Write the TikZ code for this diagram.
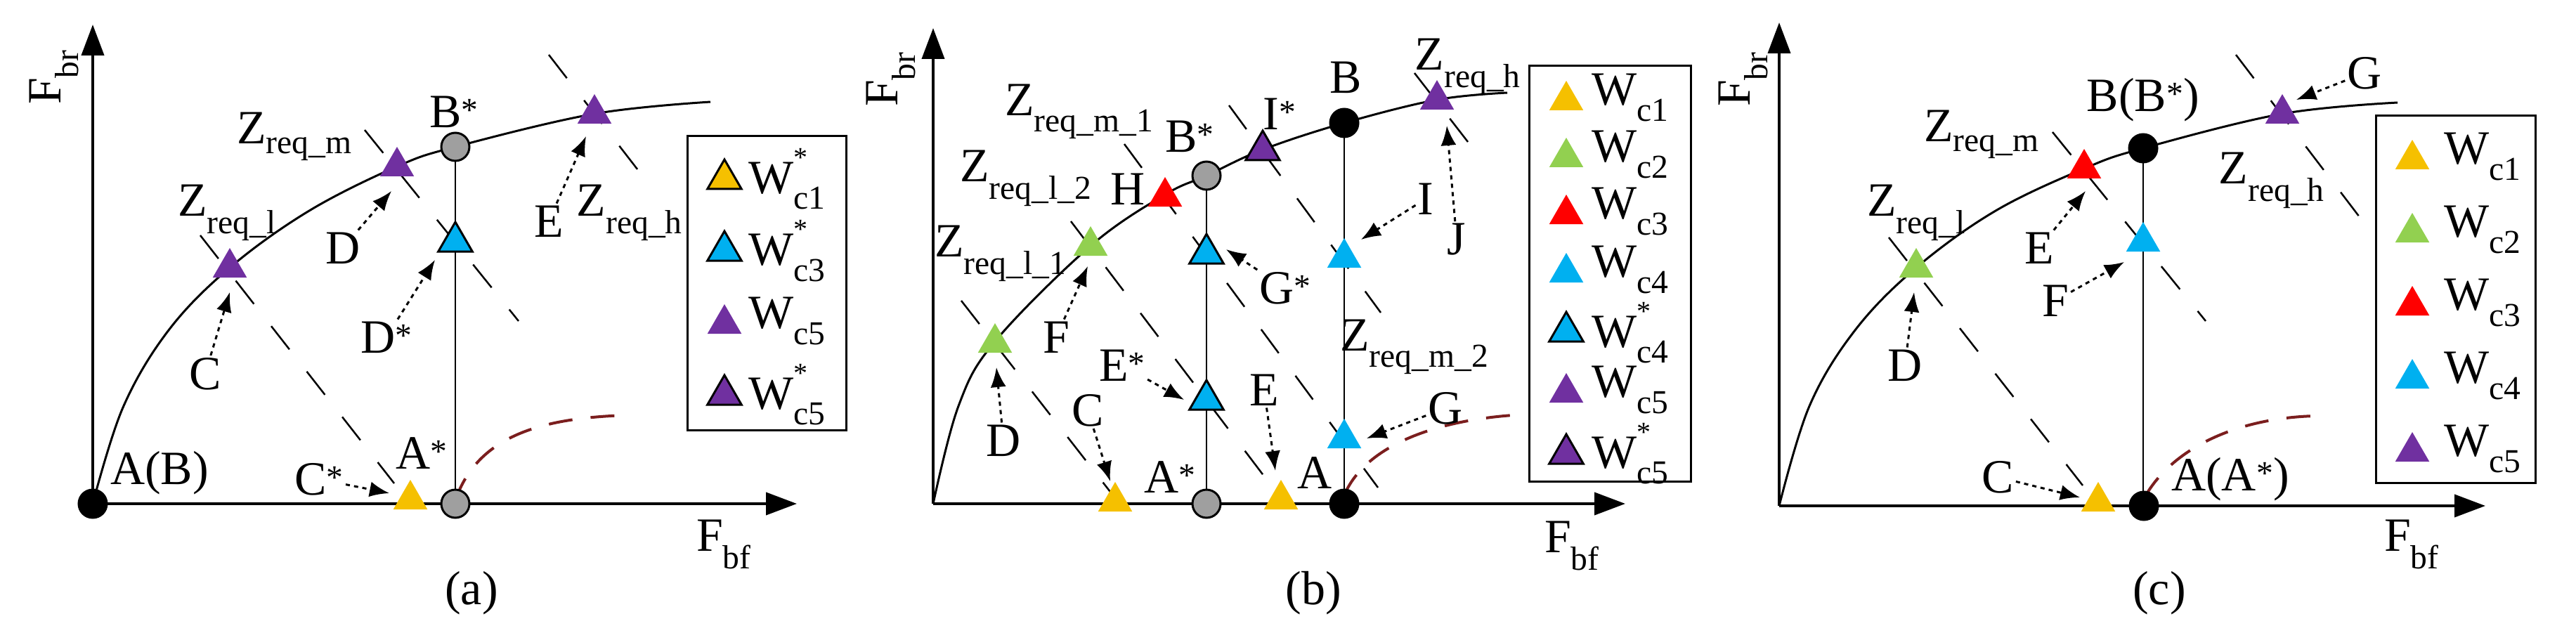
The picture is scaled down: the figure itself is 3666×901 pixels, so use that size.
\documentclass[tikz,border=0pt]{standalone}
\usepackage{fontspec}
\setmainfont{Liberation Serif}
\usetikzlibrary{shapes.geometric,arrows.meta}
\definecolor{cy}{HTML}{F5C000}
\definecolor{cg}{HTML}{92D050}
\definecolor{cr}{HTML}{FF0000}
\definecolor{cc}{HTML}{00B0F0}
\definecolor{cp}{HTML}{7030A0}
\definecolor{cb}{HTML}{7B1E1E}
\newcommand{\fsz}{\fontsize{68}{76}\selectfont}
\newcommand{\wst}[1]{W\rlap{\raisebox{0.55em}{\fontsize{40}{40}\selectfont *}}\textsubscript{#1}}
\begin{document}
\begin{tikzpicture}[x=1pt,y=-1pt,
 tri/.style={regular polygon,regular polygon sides=3,minimum size=56,inner sep=0pt,draw=none},
 ty/.style={tri,fill=cy}, tg/.style={tri,fill=cg}, tr/.style={tri,fill=cr},
 tc/.style={tri,fill=cc}, tp/.style={tri,fill=cp},
 ol/.style={draw=black,line width=3pt},
 dot/.style={circle,minimum size=40,inner sep=0pt,draw=black,line width=3pt},
 gdot/.style={dot,fill=gray!75}, bdot/.style={dot,fill=black},
 lbl/.style={inner sep=3pt,font=\fsz},
 axis/.style={line width=4pt,-{Triangle[length=44,width=32]}},
 crv/.style={line width=3pt},
 vl/.style={line width=2.5pt},
 zl/.style={line width=2.5pt,dash pattern=on 42pt off 40pt},
 rc/.style={line width=4pt,cb,dash pattern=on 34pt off 26pt},
 arr/.style={line width=3pt,dash pattern=on 6pt off 6pt,-{Latex[length=28,width=22]}},
 box/.style={draw=black,line width=3pt}]
\useasboundingbox (0,0) rectangle (3666,901);
% ================= (a)
\coordinate (aO) at (132,717); \coordinate (aY) at (132,35); \coordinate (aX) at (1134,717);
\draw[axis] (aO) -- (aY); \draw[axis] (aO) -- (aX);
\node[lbl,rotate=90] (aFbr) at (77,110) {F\textsubscript{br}};
\node[lbl] (aFbf) at (1030,775) {F\textsubscript{bf}};
\node[lbl] (acap) at (671,844) {(a)};
\draw[crv] plot[smooth,tension=0.6] coordinates {(132,717) (175,580) (240,470) (327,381) (440,300) (565,237) (648,209) (846,162) (1011,145)};
\draw[vl] (648,209) -- (648,717);
\draw[rc] (648,712) .. controls (680,620) and (770,595) .. (892,591);
\draw[zl] (285,335) -- (561,688);
\draw[zl] (519,185) -- (738,457);
\draw[zl] (781,78) -- (911,246);
\node[bdot] (aAB) at (132,717) {};
\node[gdot] (aBs) at (648,209) {};
\node[gdot] (aAs) at (648,717) {};
\node[tp] (aT1) at (327,381) {};
\node[tp] (aT2) at (565,237) {};
\node[tp] (aT3) at (846,162) {};
\node[tc,ol] (aT4) at (648,344) {};
\node[ty] (aT5) at (584,711) {};
\node[lbl] (aLAB) at (227,673) {A(B)};
\node[lbl] (aLBs) at (646,159) {B\textsuperscript{*}};
\node[lbl] (aLAs) at (600,645) {A\textsuperscript{*}};
\node[lbl] (aZm) at (419,194) {Z\textsubscript{req\_m}};
\node[lbl] (aZl) at (323,303) {Z\textsubscript{req\_l}};
\node[lbl] (aZh) at (896,303) {Z\textsubscript{req\_h}};
\node[lbl] (aE) at (781,315) {E};
\node[lbl] (aD) at (488,353) {D};
\node[lbl] (aDs) at (550,480) {D\textsuperscript{*}};
\node[lbl] (aC) at (292,532) {C};
\node[lbl] (aCs) at (454,682) {C\textsuperscript{*}};
\coordinate (aeC) at (327,416); \coordinate (aeD) at (557,272); \coordinate (aeE) at (834,194);
\coordinate (aeDs) at (619,370); \coordinate (aeCs) at (554,702);
\draw[arr] (aC) -- (aeC); \draw[arr] (aD) -- (aeD); \draw[arr] (aE) -- (aeE);
\draw[arr] (aDs) -- (aeDs); \draw[arr] (aCs) -- (aeCs);
\draw[box] (978,194) rectangle (1204,612);
\node[ty,ol] (aK1) at (1031,255) {}; \node[lbl,anchor=west] (aW1) at (1062,255) {\wst{c1}};
\node[tc,ol] (aK2) at (1031,357) {}; \node[lbl,anchor=west] (aW2) at (1062,357) {\wst{c3}};
\node[tp] (aK3) at (1031,461) {}; \node[lbl,anchor=west] (aW3) at (1062,457) {W\textsubscript{c5}};
\node[tp,ol] (aK4) at (1031,562) {}; \node[lbl,anchor=west] (aW4) at (1062,562) {\wst{c5}};
% ================= (b)
\coordinate (bO) at (1328,717); \coordinate (bY) at (1328,40); \coordinate (bX) at (2313,717);
\draw[axis] (bO) -- (bY); \draw[axis] (bO) -- (bX);
\node[lbl,rotate=90] (bFbr) at (1268,113) {F\textsubscript{br}};
\node[lbl] (bFbf) at (2237,777) {F\textsubscript{bf}};
\node[lbl] (bcap) at (1869,844) {(b)};
\draw[crv] plot[smooth,tension=0.6] coordinates {(1328,717) (1364,578) (1416,486) (1552,350) (1658,277) (1717,250) (1797,213) (1913,175) (2045,142) (2145,132)};
\draw[vl] (1717,250) -- (1717,717);
\draw[vl] (1913,175) -- (1913,717);
\draw[rc] (1913,705) .. controls (1940,640) and (2030,600) .. (2153,591);
\draw[zl] (1368,428) -- (1580,700);
\draw[zl] (1524,315) -- (1812,695);
\draw[zl] (1600,205) -- (1961,694);
\draw[zl] (1749,150) -- (1965,445);
\draw[zl] (2013,104) -- (2089,202);
\node[gdot] (bBs) at (1717,250) {};
\node[gdot] (bAs) at (1717,717) {};
\node[bdot] (bB) at (1913,175) {};
\node[bdot] (bA) at (1913,717) {};
\node[ty] (bT1) at (1587,714) {};
\node[ty] (bT2) at (1823,711) {};
\node[tg] (bT3) at (1416,488) {};
\node[tg] (bT4) at (1552,350) {};
\node[tr] (bT5) at (1658,280) {};
\node[tp,ol] (bT6) at (1797,214) {};
\node[tp] (bT7) at (2045,142) {};
\node[tc,ol] (bT8) at (1717,361) {};
\node[tc,ol] (bT9) at (1717,569) {};
\node[tc] (bT10) at (1913,367) {};
\node[tc] (bT11) at (1913,624) {};
\node[lbl] (bZm1) at (1536,159) {Z\textsubscript{req\_m\_1}};
\node[lbl] (bZl2) at (1460,254) {Z\textsubscript{req\_l\_2}};
\node[lbl] (bZl1) at (1424,361) {Z\textsubscript{req\_l\_1}};
\node[lbl] (bH) at (1605,269) {H};
\node[lbl] (bLBs) at (1693,194) {B\textsuperscript{*}};
\node[lbl] (bIs) at (1821,162) {I\textsuperscript{*}};
\node[lbl] (bLB) at (1915,110) {B};
\node[lbl] (bZh) at (2089,95) {Z\textsubscript{req\_h}};
\node[lbl] (bI) at (2029,283) {I};
\node[lbl] (bJ) at (2073,341) {J};
\node[lbl] (bGs) at (1829,410) {G\textsuperscript{*}};
\node[lbl] (bF) at (1503,480) {F};
\node[lbl] (bD) at (1428,627) {D};
\node[lbl] (bEs) at (1597,520) {E\textsuperscript{*}};
\node[lbl] (bC) at (1548,584) {C};
\node[lbl] (bE) at (1799,555) {E};
\node[lbl] (bLAs) at (1665,679) {A\textsuperscript{*}};
\node[lbl] (bLA) at (1871,673) {A};
\node[lbl] (bZm2) at (2013,494) {Z\textsubscript{req\_m\_2}};
\node[lbl] (bG) at (2057,581) {G};
\coordinate (beD) at (1418,523); \coordinate (beF) at (1548,379); \coordinate (beC) at (1580,685);
\coordinate (beEs) at (1685,569); \coordinate (beE) at (1815,670); \coordinate (beGs) at (1745,355);
\coordinate (beI) at (1937,341); \coordinate (beJ) at (2059,179); \coordinate (beG) at (1945,624);
\draw[arr] (bD) -- (beD); \draw[arr] (bF) -- (beF); \draw[arr] (bC) -- (beC);
\draw[arr] (bEs) -- (beEs); \draw[arr] (bE) -- (beE); \draw[arr] (bGs) -- (beGs);
\draw[arr] (bI) -- (beI); \draw[arr] (bJ) -- (beJ); \draw[arr] (bG) -- (beG);
\draw[box] (2176,94) rectangle (2406,685);
\node[ty] (bK1) at (2229,143) {}; \node[lbl,anchor=west] (bW1) at (2262,139) {W\textsubscript{c1}};
\node[tg] (bK2) at (2229,224) {}; \node[lbl,anchor=west] (bW2) at (2262,220) {W\textsubscript{c2}};
\node[tr] (bK3) at (2229,305) {}; \node[lbl,anchor=west] (bW3) at (2262,301) {W\textsubscript{c3}};
\node[tc] (bK4) at (2229,388) {}; \node[lbl,anchor=west] (bW4) at (2262,384) {W\textsubscript{c4}};
\node[tc,ol] (bK5) at (2229,472) {}; \node[lbl,anchor=west] (bW5) at (2262,474) {\wst{c4}};
\node[tp] (bK6) at (2229,559) {}; \node[lbl,anchor=west] (bW6) at (2262,555) {W\textsubscript{c5}};
\node[tp,ol] (bK7) at (2229,646) {}; \node[lbl,anchor=west] (bW7) at (2262,646) {\wst{c5}};
% ================= (c)
\coordinate (cO) at (2532,720); \coordinate (cY) at (2532,32); \coordinate (cX) at (3537,720);
\draw[axis] (cO) -- (cY); \draw[axis] (cO) -- (cX);
\node[lbl,rotate=90] (cFbr) at (2481,113) {F\textsubscript{br}};
\node[lbl] (cFbf) at (3432,775) {F\textsubscript{bf}};
\node[lbl] (ccap) at (3073,844) {(c)};
\draw[crv] plot[smooth,tension=0.6] coordinates {(2532,720) (2575,578) (2640,470) (2727,381) (2840,300) (2966,240) (3050,211) (3248,162) (3412,146)};
\draw[vl] (3050,211) -- (3050,720);
\draw[rc] (3052,708) .. controls (3090,640) and (3180,595) .. (3295,592);
\draw[zl] (2688,338) -- (2964,691);
\draw[zl] (2921,188) -- (3139,457);
\draw[zl] (3182,78) -- (3358,309);
\node[bdot] (cB) at (3050,211) {};
\node[bdot] (cA) at (3051,720) {};
\node[tg] (cT1) at (2727,381) {};
\node[tr] (cT2) at (2966,240) {};
\node[tc] (cT3) at (3050,344) {};
\node[tp] (cT4) at (3248,162) {};
\node[ty] (cT5) at (2986,714) {};
\node[lbl] (cZm) at (2820,191) {Z\textsubscript{req\_m}};
\node[lbl] (cZl) at (2727,303) {Z\textsubscript{req\_l}};
\node[lbl] (cLB) at (3050,142) {B(B\textsuperscript{*})};
\node[lbl] (cZh) at (3233,257) {Z\textsubscript{req\_h}};
\node[lbl] (cG) at (3365,104) {G};
\node[lbl] (cE) at (2902,353) {E};
\node[lbl] (cF) at (2925,428) {F};
\node[lbl] (cD) at (2711,520) {D};
\node[lbl] (cC) at (2843,679) {C};
\node[lbl] (cLA) at (3174,682) {A(A\textsuperscript{*})};
\coordinate (ceG) at (3268,142); \coordinate (ceE) at (2968,272); \coordinate (ceF) at (3023,373);
\coordinate (ceD) at (2724,416); \coordinate (ceC) at (2960,708);
\draw[arr] (cG) -- (ceG); \draw[arr] (cE) -- (ceE); \draw[arr] (cF) -- (ceF);
\draw[arr] (cD) -- (ceD); \draw[arr] (cC) -- (ceC);
\draw[box] (3381,165) rectangle (3608,687);
\node[ty] (cK1) at (3433,227) {}; \node[lbl,anchor=west] (cW1) at (3475,223) {W\textsubscript{c1}};
\node[tg] (cK2) at (3433,331) {}; \node[lbl,anchor=west] (cW2) at (3475,327) {W\textsubscript{c2}};
\node[tr] (cK3) at (3433,435) {}; \node[lbl,anchor=west] (cW3) at (3475,431) {W\textsubscript{c3}};
\node[tc] (cK4) at (3433,539) {}; \node[lbl,anchor=west] (cW4) at (3475,535) {W\textsubscript{c4}};
\node[tp] (cK5) at (3433,643) {}; \node[lbl,anchor=west] (cW5) at (3475,639) {W\textsubscript{c5}};
\end{tikzpicture}
\end{document}
